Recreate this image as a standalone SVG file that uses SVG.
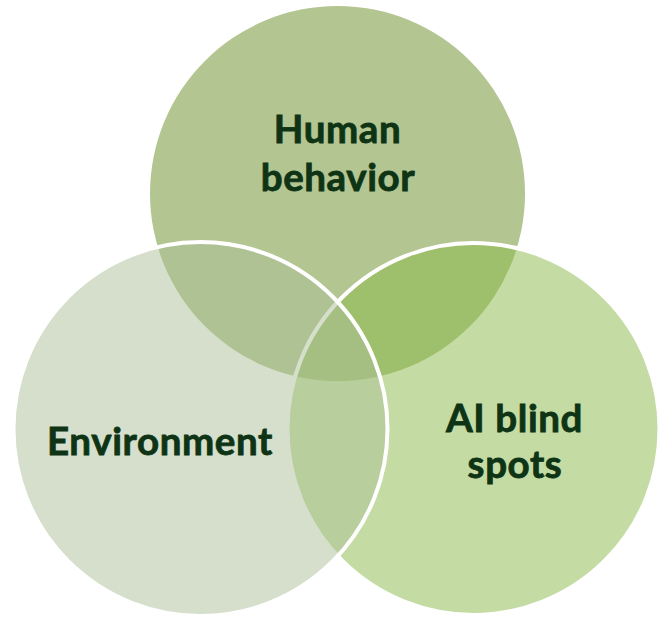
<svg xmlns="http://www.w3.org/2000/svg" width="659" height="621" viewBox="0 0 659 621">
<style>
.lbl{font-family:Lato,"Open Sans","Liberation Sans",sans-serif;font-weight:bold;font-size:38.5px;fill:#0e3415;stroke:#0e3415;stroke-width:0.8;text-anchor:middle;letter-spacing:0.6px}
</style>
<rect width="659" height="621" fill="#ffffff"/>
<g id="human">
<circle cx="337.5" cy="193.5" r="187.5" fill="#b3c591"/>
</g>
<g id="ai">
<circle cx="473.5" cy="429" r="186" fill="#89b947" fill-opacity="0.5" stroke="#ffffff" stroke-width="4"/>
</g>
<g id="env">
<circle cx="200.5" cy="429" r="187" fill="#abbf97" fill-opacity="0.5" stroke="#ffffff" stroke-width="4"/>
</g>
<g id="connectors"></g>
<g id="labels">
<text class="lbl" x="337.5" y="143">Human</text>
<text class="lbl" x="338" y="191">behavior</text>
<text class="lbl" x="160" y="455">Environment</text>
<text class="lbl" x="514.5" y="432">AI blind</text>
<text class="lbl" x="515" y="478">spots</text>
</g>
</svg>
